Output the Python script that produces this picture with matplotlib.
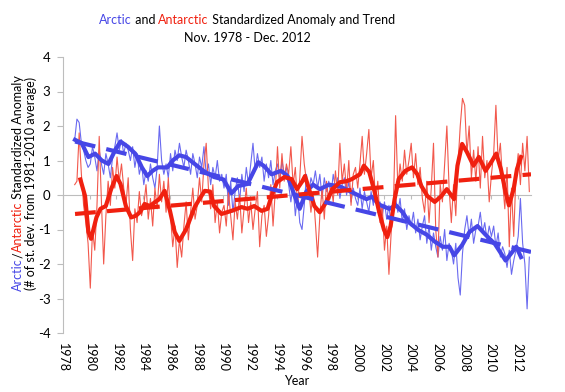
import numpy as np
import matplotlib
matplotlib.use("Agg")
import matplotlib.pyplot as plt

FONT = "Lato"
plt.rcParams["font.family"] = [FONT, "DejaVu Sans"]

# bi-monthly anomalies, Nov 1978 then Jan/Mar/May/Jul/Sep/Nov of each year
arctic_raw = [1.6,
    2.2, 2.1, 1.5, 1.3, 1.0, 0.8,      # 1979
    0.9, 1.4, 1.1, 0.7, 1.3, 0.9,      # 1980
    0.6, 1.2, 0.9, 0.5, 1.1, 1.4,
    1.8, 1.3, 1.6, 1.2, 1.5, 1.3,
    1.0, 1.4, 0.8, 1.2, 0.6, 0.9,
    0.3, 0.7, 0.4, 0.9, 0.5, 0.2,      # 1984
    0.8, 2.0, 1.0, 0.6, 0.9, 0.5,
    1.2, 0.7, 1.3, 1.0, 1.5, 1.1,
    0.8, 1.3, 1.0, 0.6, 1.2, 0.9,
    0.5, 1.1, 0.8, 1.4, 0.6, 0.9,      # 1988
    0.3, 0.8, 0.5, 1.0, 0.4, 0.6,
    0.2, 0.6, -0.3, 0.4, -0.5, 0.1,
    0.5, -0.2, 0.6, 0.1, 0.8, 0.3,
    0.9, 1.5, 0.7, 1.2, 0.8, 1.1,      # 1992
    0.4, 0.9, 0.5, 1.0, 0.3, 0.7,
    0.9, 0.4, 1.0, 0.6, 0.8, 0.3,
    -0.2, 0.3, -0.6, 0.0, -0.8, -1.0,
    -0.3, 0.6, 0.0, 0.5, 0.3, 0.7,     # 1996
    0.2, 0.6, -0.1, 0.5, 0.1, 0.4,
    0.0, 0.6, 0.2, 0.5, -0.1, 0.3,
    0.5, 0.0, 0.4, -0.2, 0.2, -0.1,
    -0.3, 0.2, -0.4, 0.1, -0.2, -0.5,  # 2000
    0.1, -0.3, 0.2, -0.5, -0.2, -0.6,
    -0.2, -0.7, -0.3, -0.9, -0.4, -0.1,
    -0.5, -0.1, -0.8, -0.4, -1.0, -0.6,
    -0.9, -0.5, -1.1, -0.7, -1.3, -0.9,  # 2004
    -0.6, -1.4, -0.9, -1.6, -1.1, -1.5,
    -1.8, -1.2, -1.6, -1.0, -1.9, -1.4,
    -1.6, -2.0, -1.4, -2.4, -2.9, -1.7,
    -1.0, -0.6, -1.2, -0.7, -1.4, -1.0,  # 2008
    -0.9, -0.5, -1.1, -0.8, -1.3, -0.9,
    -1.2, -0.9, -1.5, -1.1, -1.8, -1.5,
    -1.7, -2.1, -1.6, -2.3, -1.9, -1.6,
    -1.2, -0.1, -1.4, -2.0, -3.3, -1.8]  # 2012

antarctic_raw = [0.3,
    0.4, 1.8, 0.6, -0.3, -0.8, -1.4,   # 1979
    -2.7, -1.0, -1.6, -0.3, 1.7, -0.2,
    -2.0, -0.6, 0.4, -0.3, 0.8, 0.2,
    1.1, 0.4, 0.9, 0.2, -0.3, 0.5,
    -1.0, -1.9, -0.4, -0.8, 0.1, -0.6,
    -0.3, 0.3, -0.7, -0.1, -0.9, 0.2,  # 1984
    -0.4, 0.6, -0.2, 0.4, -0.5, 0.5,
    -0.6, -1.5, -0.9, -2.1, -1.3, -1.8,
    -0.9, -0.2, -1.3, -0.5, 0.2, -0.7,
    -0.3, 0.5, -0.2, 0.9, 1.5, 0.2,    # 1988
    -0.4, 0.3, -0.8, -0.2, -1.1, -0.5,
    -0.3, -0.9, 0.1, -0.6, -1.3, -0.2,
    -0.7, 0.0, -1.1, -0.4, 0.2, -0.8,
    -0.2, -1.0, -0.4, 0.1, -1.5, -0.6,  # 1992
    -0.3, -1.2, -0.6, 0.3, -0.9, 0.1,
    1.4, 0.2, 1.2, 0.4, 0.9, 0.6,
    1.4, 0.3, 0.8, -0.3, 0.5, 1.7,
    0.9, 0.4, 0.2, -0.5, 0.1, -0.8,    # 1996
    -1.8, -0.6, 0.2, -0.7, 0.4, -0.2,
    0.3, -0.2, 0.7, 0.0, 1.5, 0.4,
    0.9, 0.1, 1.0, -0.3, 0.6, 0.8,
    0.2, 0.9, 1.7, 0.6, 1.2, 1.9,      # 2000
    0.5, 1.0, -0.2, 0.4, -0.8, -0.3,
    -1.6, -0.9, -2.3, -1.1, -0.3, 2.3,
    0.2, 0.9, 0.4, 1.3, 0.6, 1.0,
    1.5, 0.5, 1.2, 0.3, 0.8, -0.1,     # 2004
    -0.5, 0.4, -0.8, 0.2, 1.5, -1.0,
    -1.8, 0.3, -0.2, 0.9, 2.0, 0.2,
    -0.8, 0.3, -0.6, 0.9, 2.0, 2.8,
    2.6, 1.2, 2.0, 0.5, 1.3, 0.4,      # 2008
    1.4, 0.2, 1.7, 0.5, 1.0, -0.2,
    0.6, 1.2, 2.6, 1.0, 1.5, 0.4,
    -0.4, 0.8, -1.5, 0.2, -1.2, 0.6,
    1.2, 0.3, 1.5, 0.7, 1.7, 0.1]      # 2012

# 12-month running means, read at turning points
arctic_smooth_yr = [1978.9, 1979.4, 1979.9, 1980.4, 1980.9, 1981.4, 1981.9, 1982.3, 1982.85,
    1983.4, 1983.9, 1984.3, 1984.7, 1985.1, 1985.8, 1986.2, 1986.7, 1987.2, 1987.85,
    1988.6, 1989.3, 1990.0, 1990.6, 1991.1, 1991.8, 1992.6, 1993.0, 1993.6, 1994.3,
    1994.8, 1995.3, 1995.7, 1996.2, 1996.7, 1997.2, 1997.9, 1998.7, 1999.4, 2000.2,
    2000.7, 2001.1, 2001.65, 2002.4, 2002.9, 2003.4, 2003.9, 2004.6, 2005.2, 2005.8,
    2006.4, 2006.9, 2007.25, 2007.85, 2008.4, 2009.0, 2009.6, 2010.3, 2011.1, 2011.6,
    2011.9, 2012.25]
arctic_smooth = [1.6, 1.5, 1.1, 1.2, 1.0, 0.9, 1.3, 1.55, 1.4,
    1.2, 0.8, 0.55, 0.7, 0.8, 0.8, 1.0, 1.15, 1.1, 0.9,
    0.67, 0.52, 0.45, 0.05, 0.26, 0.32, 0.95, 0.85, 0.6, 0.7,
    0.55, 0.0, -0.4, 0.1, 0.3, 0.17, 0.3, 0.25, 0.12, -0.03,
    -0.12, -0.05, -0.28, -0.4, -0.3, -0.5, -0.8, -1.02, -1.15, -1.35,
    -1.5, -1.5, -1.75, -1.45, -1.07, -0.9, -1.15, -1.42, -1.9, -1.65,
    -1.5, -1.8]

antarctic_smooth_yr = [1979.3, 1979.65, 1979.9, 1980.1, 1980.5, 1980.8, 1981.2, 1981.6, 1982.0,
    1982.3, 1982.7, 1983.1, 1983.45, 1983.75, 1984.1, 1984.5, 1984.9, 1985.2, 1985.6,
    1986.0, 1986.35, 1986.7, 1987.2, 1987.5, 1987.85, 1988.2, 1988.6, 1989.0, 1989.3,
    1989.85, 1990.6, 1991.35, 1991.8, 1992.3, 1992.85, 1993.3, 1993.6, 1994.0, 1994.55,
    1995.1, 1995.5, 1995.9, 1996.1, 1996.4, 1996.8, 1997.2, 1997.7, 1998.15, 1998.7,
    1999.2, 1999.6, 2000.2, 2000.5, 2000.9, 2001.3, 2001.65, 2002.0, 2002.25, 2002.5,
    2002.8, 2003.1, 2003.6, 2004.1, 2004.5, 2004.8, 2005.25, 2005.8, 2006.3, 2006.7,
    2007.25, 2007.5, 2007.85, 2008.2, 2008.7, 2009.1, 2009.6, 2010.1, 2010.4, 2010.75,
    2011.1, 2011.35, 2011.7, 2011.95, 2012.25]
antarctic_smooth = [0.45, -0.03, -1.07, -1.27, -0.65, -0.4, -0.32, 0.17, 0.55,
    0.32, -0.32, -0.65, -0.6, -0.5, -0.26, -0.32, -0.2, -0.12, 0.12,
    -0.46, -1.07, -1.33, -1.0, -0.7, -0.35, -0.12, 0.12, 0.1, -0.32,
    -0.55, -0.46, -0.35, -0.4, -0.32, -0.46, -0.4, -0.03, 0.37, 0.52,
    0.46, 0.17, 0.4, 0.55, 0.17, -0.32, -0.5, -0.2, 0.17, 0.37,
    0.4, 0.46, 0.6, 0.85, 0.67, 0.1, -0.5, -1.0, -1.22, -0.9,
    -0.12, 0.46, 0.7, 0.8, 0.6, 0.26, -0.03, -0.2, -0.03, 0.17,
    -0.12, 0.85, 1.48, 1.25, 0.85, 1.1, 0.7, 1.0, 1.2, 0.75,
    0.08, -0.3, 0.17, 0.75, 1.1]

# linear trends
trend_yr = [1978.9, 2013.0]
arctic_trend = [1.55, -1.65]
antarctic_trend = [-0.55, 0.6]

tick_years = list(range(1978, 2013, 2))
y_ticks = [-4, -3, -2, -1, 0, 1, 2, 3, 4]

BLUE = "#4646e6"
RED = "#f0200f"
GRAY = "#bdbdbd"
W, H = 565, 392

raw_years = 1978 + 10.5 / 12 + np.arange(len(arctic_raw)) * 2 / 12

fig = plt.figure(figsize=(W / 100, H / 100), dpi=100)
ax = fig.add_axes([63 / W, 1 - 333 / H, (531 - 63) / W, (333 - 57) / H])

ax.plot(raw_years, arctic_raw, color="#6a6af0", lw=0.8, zorder=2)
ax.plot(raw_years, antarctic_raw, color="#f2584c", lw=0.8, zorder=2)
ax.plot(arctic_smooth_yr, arctic_smooth, color=BLUE, lw=3, zorder=3,
        solid_joinstyle="round")
ax.plot(antarctic_smooth_yr, antarctic_smooth, color=RED, lw=3, zorder=3,
        solid_joinstyle="round")
ax.plot(trend_yr, arctic_trend, color=BLUE, lw=3, dashes=(5, 2.7), zorder=4)
ax.plot(trend_yr, antarctic_trend, color=RED, lw=3, dashes=(5, 2.7), zorder=4)

ax.set_xlim(1978, 2013)
ax.set_ylim(-4, 4)
ax.set_yticks(y_ticks)
ax.set_yticklabels([str(v) for v in y_ticks], fontsize=9.5)
ax.set_xticks(tick_years)
ax.tick_params(axis="x", length=3, color=GRAY, labelbottom=False)
ax.tick_params(axis="y", length=4, color=GRAY, pad=5)
for s in ["top", "right"]:
    ax.spines[s].set_visible(False)
ax.spines["left"].set_color(GRAY)
ax.spines["bottom"].set_position(("data", 0))
ax.spines["bottom"].set_color(GRAY)
ax.spines["bottom"].set_zorder(1)

sec = ax.secondary_xaxis(0.0)
sec.set_xticks(tick_years)
sec.set_xticklabels([str(v) for v in tick_years], fontsize=9, rotation=-90)
sec.spines["bottom"].set_visible(False)
sec.tick_params(length=0, pad=7)

fig.text(297 / W, 1 - 385 / H, "Year", ha="center", va="baseline", fontsize=9)

renderer = fig.canvas.get_renderer()


def text_width(s, size):
    t1 = fig.text(0, 0, "|" + s + "|", fontsize=size)
    t2 = fig.text(0, 0, "||", fontsize=size)
    w = t1.get_window_extent(renderer).width - t2.get_window_extent(renderer).width
    t1.remove()
    t2.remove()
    return w


def color_line(xc, yc, parts, size, vertical=False):
    widths = [text_width(s, size) for s, _ in parts]
    pos = (yc if vertical else xc) - sum(widths) / 2
    for (s, c), w in zip(parts, widths):
        if vertical:
            fig.text(xc / W, pos / H, s, color=c, fontsize=size, rotation=90,
                     rotation_mode="anchor", ha="left", va="baseline")
        else:
            fig.text(pos / W, 1 - yc / H, s, color=c, fontsize=size,
                     ha="left", va="baseline")
        pos += w


color_line(247, 24, [("Arctic", BLUE), (" and ", "black"), ("Antarctic", RED),
                     (" Standardized Anomaly and Trend", "black")], 9)
color_line(247, 42, [("Nov. 1978 - Dec. 2012", "black")], 9)
color_line(22, H - 183, [("Arctic", BLUE), ("/", "black"), ("Antarctic", RED),
                         (" Standardized Anomaly", "black")], 9, vertical=True)
color_line(35, H - 183, [("(# of st. dev. from 1981-2010 average)", "black")],
           9, vertical=True)

fig.savefig("out.png", dpi=100)
